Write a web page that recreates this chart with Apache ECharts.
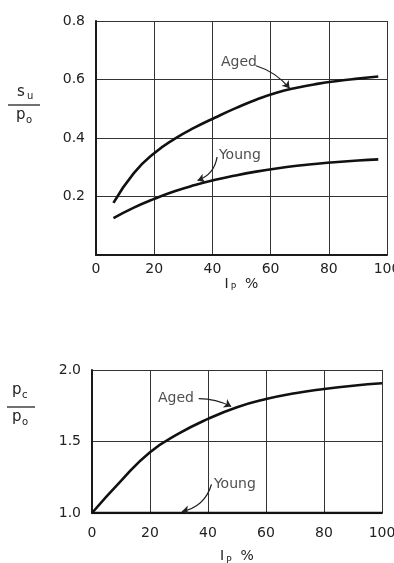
<!DOCTYPE html>
<html><head><meta charset="utf-8">
<script src="https://cdn.jsdelivr.net/npm/echarts@6/dist/echarts.min.js"></script>
<style>html,body{margin:0;padding:0;background:#fff;}#c{width:394px;height:563px;}</style>
</head><body><div id="c"></div>
<script>
// ---- data ----
var ipTop = [6, 13, 20, 27, 34, 41, 48, 55, 62, 69, 76, 83, 90, 97];
var agedTop = [0.178, 0.28, 0.348, 0.397, 0.436, 0.47, 0.502, 0.531, 0.555, 0.572, 0.585, 0.595, 0.603, 0.61];
var youngTop = [0.126, 0.162, 0.192, 0.218, 0.239, 0.257, 0.272, 0.285, 0.296, 0.305, 0.312, 0.318, 0.323, 0.327];
var ipBottom = [0, 10, 20, 30, 40, 50, 60, 70, 80, 90, 100];
var agedBottom = [1.0, 1.225, 1.425, 1.556, 1.658, 1.74, 1.797, 1.838, 1.867, 1.89, 1.907];
var youngBottom = [1.0, 1.0, 1.0, 1.0, 1.0, 1.0, 1.0, 1.0, 1.0, 1.0, 1.0];
var xTicks = [0, 20, 40, 60, 80, 100];
var topYTicks = [0.2, 0.4, 0.6, 0.8];
var bottomYTicks = [1.0, 1.5, 2.0];
// annotation labels (data coords): [text, x, y] and arrows [x1,y1,x2,y2]
var topLabels = [['Aged', 42.6, 0.66], ['Young', 41.9, 0.342]];
var topArrows = [[55.0, 0.647, 66.5, 0.57], [41.6, 0.335, 34.9, 0.255]];
var bottomLabels = [['Aged', 22.4, 1.80], ['Young', 41.7, 1.197]];
var bottomArrows = [[36.8, 1.80, 48.0, 1.745], [41.2, 1.2, 31.0, 1.01]];

function zip(a, b) { return a.map(function (v, i) { return [v, b[i]]; }); }

var FONT = 'DejaVu Sans';
var INK = '#1a1a1a';
var TXT = '#222';

function xAxis(gi, gap, margin) {
  return {
    type: 'value', gridIndex: gi, min: 0, max: 100, interval: 20,
    axisLine: { show: true, lineStyle: { color: INK, width: 2 } },
    axisTick: { show: false },
    splitLine: { show: true, lineStyle: { color: '#333', width: 1 } },
    axisLabel: { color: TXT, fontFamily: FONT, fontSize: 14, margin: margin,
      formatter: function (v) { return xTicks.indexOf(v) >= 0 ? String(v) : ''; } },
    name: '{a|I}{b|P}{c|  %}', nameLocation: 'middle', nameGap: gap,
    nameTextStyle: { rich: {
      a: { fontFamily: FONT, fontSize: 14, color: TXT },
      b: { fontFamily: FONT, fontSize: 9, color: TXT, padding: [8, 0, 0, 2] },
      c: { fontFamily: FONT, fontSize: 14, color: TXT } } }
  };
}
function yAxis(gi, min, max, iv, ticks) {
  return {
    type: 'value', gridIndex: gi, min: min, max: max, interval: iv,
    axisLine: { show: true, lineStyle: { color: INK, width: 2 } },
    axisTick: { show: false },
    splitLine: { show: true, lineStyle: { color: '#333', width: 1 } },
    axisLabel: { color: TXT, fontFamily: FONT, fontSize: 14, margin: 11,
      formatter: function (v) {
        var ok = ticks.some(function (t) { return Math.abs(t - v) < 1e-9; });
        return ok ? v.toFixed(1) : '';
      } }
  };
}
function curve(xi, yi, data) {
  return { type: 'line', xAxisIndex: xi, yAxisIndex: yi, data: data, smooth: true,
    symbol: 'none', lineStyle: { color: '#111', width: 2.6 }, z: 5 };
}
function labels(xi, yi, arr) {
  return { type: 'scatter', xAxisIndex: xi, yAxisIndex: yi, symbolSize: 0,
    data: arr.map(function (l) { return { name: l[0], value: [l[1], l[2]] }; }),
    label: { show: true, position: 'right', distance: 0, formatter: '{b}',
      fontFamily: FONT, fontSize: 14, color: TXT, backgroundColor: '#fff', padding: [0, 1] }, z: 6 };
}
function arrows(xi, yi, arr, curv) {
  return { type: 'lines', coordinateSystem: 'cartesian2d', xAxisIndex: xi, yAxisIndex: yi,
    data: arr.map(function (a, i) { return { coords: [[a[0], a[1]], [a[2], a[3]]], lineStyle: { curveness: curv[i] } }; }),
    symbol: ['none', 'arrow'], symbolSize: 7,
    lineStyle: { color: '#222', width: 1.3, opacity: 1 }, z: 7 };
}

var chart = echarts.init(document.getElementById('c'), null, { renderer: 'canvas' });
chart.setOption({
  backgroundColor: '#fff',
  animation: false,
  grid: [
    { left: 96, right: 7, top: 21, height: 234, outerBoundsMode: 'none', containLabel: false },
    { left: 92, right: 12, top: 370, height: 143, outerBoundsMode: 'none', containLabel: false }
  ],
  xAxis: [xAxis(0, 14, 7), xAxis(1, 35, 13)],
  yAxis: [yAxis(0, 0, 0.8, 0.2, topYTicks), yAxis(1, 1.0, 2.0, 0.5, bottomYTicks)],
  series: [
    curve(0, 0, zip(ipTop, agedTop)),
    curve(0, 0, zip(ipTop, youngTop)),
    curve(1, 1, zip(ipBottom, agedBottom)),
    curve(1, 1, zip(ipBottom, youngBottom)),
    labels(0, 0, topLabels),
    labels(1, 1, bottomLabels),
    arrows(0, 0, topArrows, [0.15, 0.3]),
    arrows(1, 1, bottomArrows, [0.12, 0.3])
  ],
  graphic: [
    { type: 'text', left: 17, top: 85, style: { text: 's', font: '15px ' + FONT, fill: TXT } },
    { type: 'text', left: 27, top: 91, style: { text: 'u', font: '10px ' + FONT, fill: TXT } },
    { type: 'line', shape: { x1: 8, y1: 105, x2: 40, y2: 105 }, style: { stroke: TXT, lineWidth: 1.3 } },
    { type: 'text', left: 16, top: 108, style: { text: 'p', font: '15px ' + FONT, fill: TXT } },
    { type: 'text', left: 26, top: 115, style: { text: 'o', font: '10px ' + FONT, fill: TXT } },

    { type: 'text', left: 12, top: 383, style: { text: 'p', font: '15px ' + FONT, fill: TXT } },
    { type: 'text', left: 22, top: 390, style: { text: 'c', font: '10px ' + FONT, fill: TXT } },
    { type: 'line', shape: { x1: 7, y1: 407, x2: 35, y2: 407 }, style: { stroke: TXT, lineWidth: 1.3 } },
    { type: 'text', left: 12, top: 410, style: { text: 'p', font: '15px ' + FONT, fill: TXT } },
    { type: 'text', left: 22, top: 417, style: { text: 'o', font: '10px ' + FONT, fill: TXT } }
  ]
});
</script></body></html>
